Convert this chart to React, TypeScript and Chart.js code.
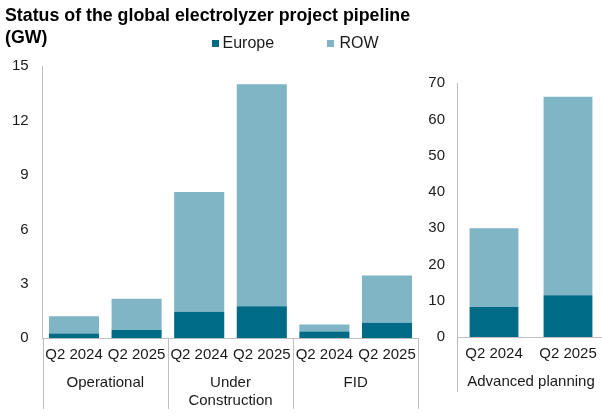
import React, { useEffect, useRef } from 'react';
import { Chart, registerables } from 'chart.js';

Chart.register(...registerables);

const leftCategories = ['Q2 2024', 'Q2 2025', 'Q2 2024', 'Q2 2025', 'Q2 2024', 'Q2 2025'];
const leftGroups: (string | string[])[] = ['Operational', ['Under', 'Construction'], 'FID'];
const leftEurope = [0.27, 0.46, 1.46, 1.77, 0.37, 0.85];
const leftRow = [0.94, 1.72, 6.6, 12.22, 0.39, 2.61];
const leftTickMax = 15;
const leftTickStep = 3;

const rightCategories = ['Q2 2024', 'Q2 2025'];
const rightGroups: (string | string[])[] = ['Advanced planning'];
const rightEurope = [8.3, 11.5];
const rightRow = [21.7, 54.8];
const rightTickMax = 70;
const rightTickStep = 10;

const seriesNames = ['Europe', 'ROW'];
const EUROPE_COLOR = '#006b87';
const ROW_COLOR = '#7fb5c4';
const AXIS_COLOR = '#bfbfbf';
const TEXT_COLOR = '#1a1a1a';
const FONT = "'Liberation Sans', Arial, sans-serif";

function groupPlugin(groups: (string | string[])[], perGroup: number, sepBottom: number) {
  return {
    id: 'groupLabels',
    afterDraw(chart: any) {
      const { ctx, chartArea } = chart;
      const n = chart.data.labels.length;
      const w = (chartArea.right - chartArea.left) / n;
      ctx.save();
      ctx.strokeStyle = AXIS_COLOR;
      ctx.lineWidth = 1;
      for (let g = 0; g <= groups.length; g++) {
        const x = Math.round(chartArea.left + g * perGroup * w) + 0.5;
        ctx.beginPath();
        ctx.moveTo(x, chartArea.bottom);
        ctx.lineTo(x, sepBottom);
        ctx.stroke();
      }
      ctx.fillStyle = TEXT_COLOR;
      ctx.font = `15px ${FONT}`;
      ctx.textAlign = 'center';
      ctx.textBaseline = 'middle';
      groups.forEach((label, g) => {
        const cx = chartArea.left + (g + 0.5) * perGroup * w;
        const lines = Array.isArray(label) ? label : [label];
        lines.forEach((ln, i) => {
          ctx.fillText(ln, cx, chartArea.bottom + 44.5 + i * 18.5);
        });
      });
      ctx.restore();
    },
  };
}

function makeConfig(
  labels: string[],
  europe: number[],
  row: number[],
  max: number,
  step: number,
  yWidth: number,
  xHeight: number,
  padTop: number,
  padRight: number,
  barPct: number,
  yPad: number,
  plugin: any
): any {
  return {
    type: 'bar',
    data: {
      labels,
      datasets: [
        { label: seriesNames[0], data: europe, backgroundColor: EUROPE_COLOR, borderWidth: 0, barPercentage: barPct, categoryPercentage: 1 },
        { label: seriesNames[1], data: row, backgroundColor: ROW_COLOR, borderWidth: 0, barPercentage: barPct, categoryPercentage: 1 },
      ],
    },
    options: {
      animation: false,
      responsive: false,
      maintainAspectRatio: false,
      layout: { padding: { top: padTop, right: padRight, left: 0, bottom: 0 } },
      plugins: { legend: { display: false }, tooltip: { enabled: false }, title: { display: false } },
      scales: {
        x: {
          stacked: true,
          grid: { display: false, drawTicks: false },
          border: { display: true, color: AXIS_COLOR, width: 1 },
          ticks: { color: TEXT_COLOR, font: { family: FONT, size: 15 }, padding: 8, maxRotation: 0, autoSkip: false },
          afterFit: (s: any) => { s.height = xHeight; },
        },
        y: {
          stacked: true,
          min: 0,
          max,
          grid: { display: false, drawTicks: false },
          border: { display: true, color: AXIS_COLOR, width: 1 },
          ticks: { stepSize: step, color: TEXT_COLOR, font: { family: FONT, size: 15 }, padding: yPad },
          afterFit: (s: any) => { s.width = yWidth; },
        },
      },
    },
    plugins: [plugin],
  };
}

export default function App() {
  const leftRef = useRef<HTMLCanvasElement>(null);
  const rightRef = useRef<HTMLCanvasElement>(null);

  useEffect(() => {
    document.body.style.margin = '0';
    const a = new Chart(
      leftRef.current as HTMLCanvasElement,
      makeConfig(leftCategories, leftEurope, leftRow, leftTickMax, leftTickStep, 42.7, 78.7, 66, 11.7, 0.8, 14, groupPlugin(leftGroups, 2, 409))
    );
    const b = new Chart(
      rightRef.current as HTMLCanvasElement,
      makeConfig(rightCategories, rightEurope, rightRow, rightTickMax, rightTickStep, 57, 80, 83.3, 1, 0.66, 12, groupPlugin(rightGroups, 2, 392))
    );
    return () => {
      a.destroy();
      b.destroy();
    };
  }, []);

  return (
    <div style={{ position: 'relative', width: 602, height: 417, overflow: 'hidden', fontFamily: FONT, background: '#fff' }}>
      <canvas ref={leftRef} width={430} height={417} style={{ position: 'absolute', left: 0, top: 0, width: 430, height: 417 }} />
      <canvas ref={rightRef} width={206} height={417} style={{ position: 'absolute', left: 400, top: 0, width: 206, height: 417 }} />
      <div style={{ position: 'absolute', left: 5, top: 4, fontSize: 17.8, fontWeight: 'bold', lineHeight: '22px', color: '#000', whiteSpace: 'nowrap' }}>
        Status of the global electrolyzer project pipeline
        <br />
        (GW)
      </div>
      <div style={{ position: 'absolute', left: 211.5, top: 34, height: 18, display: 'flex', alignItems: 'center', fontSize: 16, color: TEXT_COLOR }}>
        <span style={{ display: 'inline-block', width: 7, height: 7, background: EUROPE_COLOR, marginRight: 4 }} />
        <span>{seriesNames[0]}</span>
      </div>
      <div style={{ position: 'absolute', left: 326.5, top: 34, height: 18, display: 'flex', alignItems: 'center', fontSize: 16, color: TEXT_COLOR }}>
        <span style={{ display: 'inline-block', width: 7, height: 7, background: ROW_COLOR, marginRight: 6 }} />
        <span>{seriesNames[1]}</span>
      </div>
    </div>
  );
}
